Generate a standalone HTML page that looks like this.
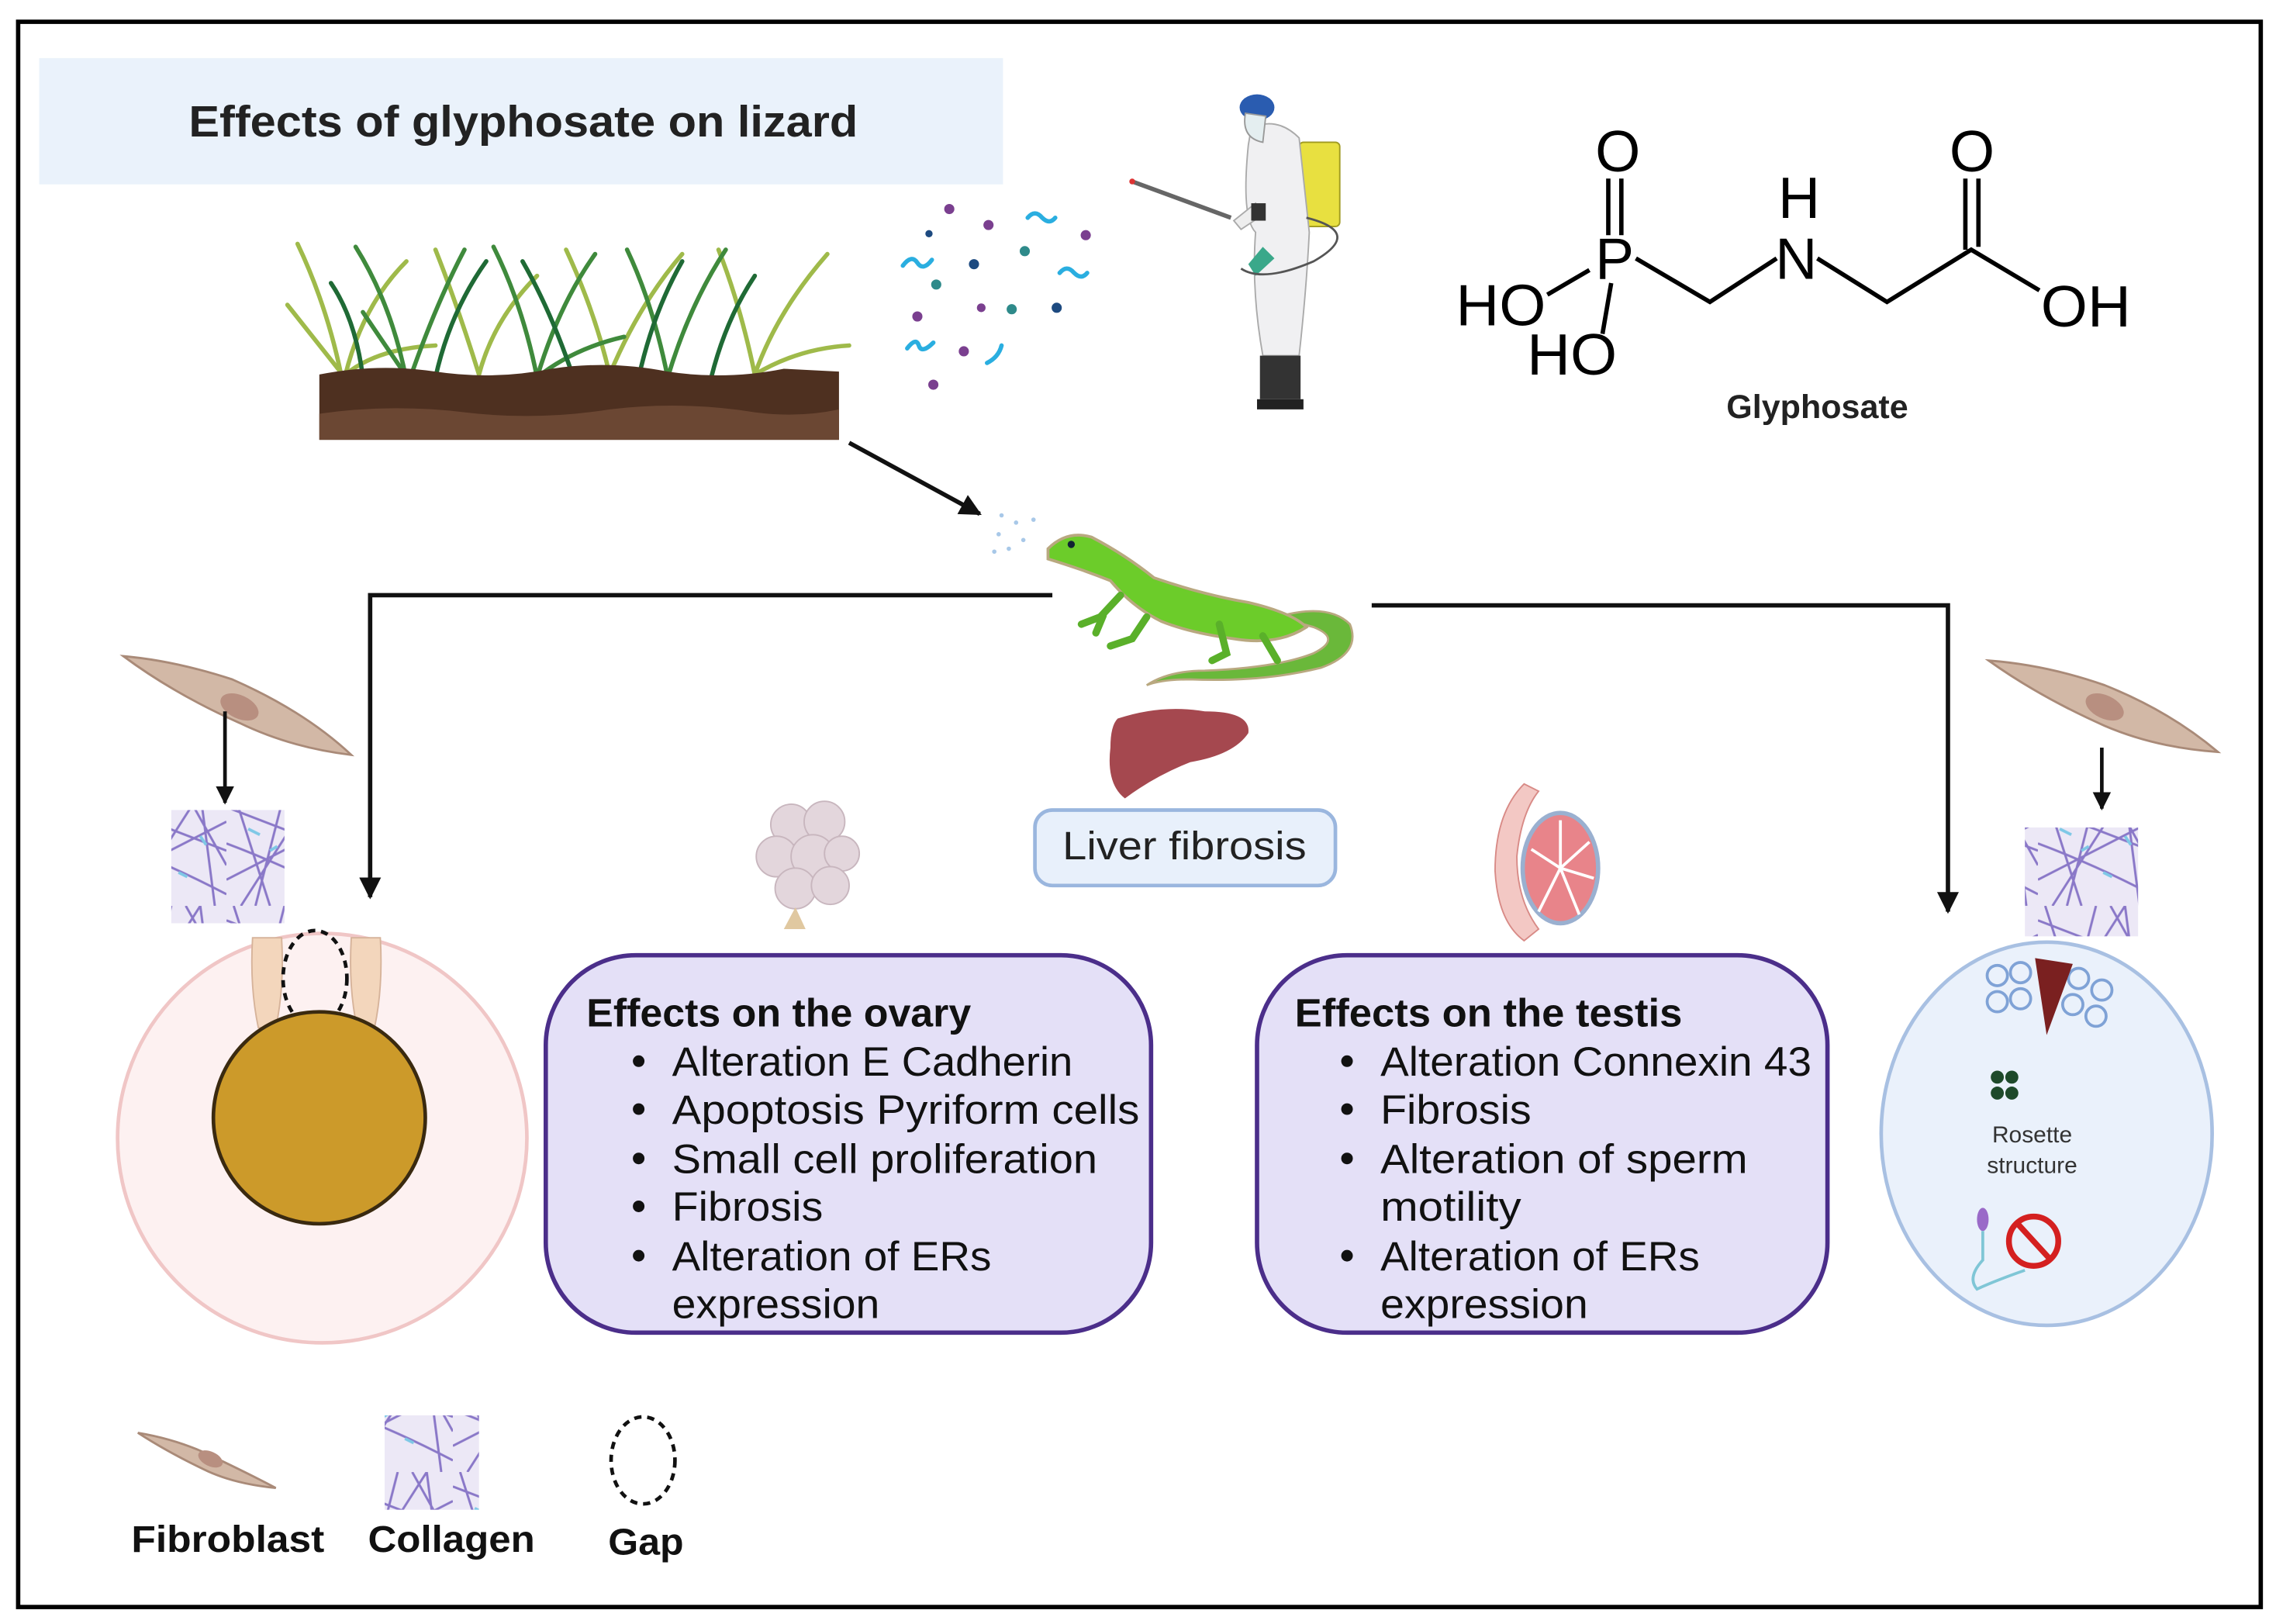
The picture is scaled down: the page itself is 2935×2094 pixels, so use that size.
<!DOCTYPE html>
<html><head><meta charset="utf-8"><style>
html,body{margin:0;padding:0;background:#fff;}
svg{display:block;}
text{font-family:"Liberation Sans",sans-serif;}
</style></head><body>
<svg width="2935" height="2094" viewBox="0 0 1568 1118.7" xmlns="http://www.w3.org/2000/svg">
<defs>
<marker id="ah" viewBox="0 0 10 10" refX="9" refY="5" markerWidth="5" markerHeight="5" orient="auto"><path d="M0,0 L10,5 L0,10 z" fill="#111"/></marker>
<pattern id="col" width="78" height="78" patternUnits="userSpaceOnUse">
<rect width="78" height="78" fill="#ece8f6"/>
<path d="M0,10 L78,40 M5,0 L30,78 M40,0 L20,78 M0,60 L78,20 M60,0 L70,78 M0,35 Q40,50 78,70 M50,0 L78,50 M10,78 L60,0" stroke="#8a78c8" stroke-width="1.6" fill="none"/>
<path d="M15,25 l8,4 M45,55 l6,3 M30,40 l5,-3 M60,30 l4,6" stroke="#7ec8e6" stroke-width="2"/>
</pattern>
</defs>
<rect x="0" y="0" width="1568" height="1118.7" fill="#fff"/>
<rect x="12.5" y="15" width="1545" height="1092" fill="none" stroke="#000" stroke-width="3"/>

<rect x="27" y="40" width="664" height="87" fill="#eaf2fb"/>
<text x="130" y="94" font-size="30" font-weight="bold" fill="#222" textLength="461" lengthAdjust="spacingAndGlyphs">Effects of glyphosate on lizard</text>

<g fill="none" stroke-width="3" stroke-linecap="round">
<g stroke="#9fba4a">
<path d="M235,258 Q225,210 205,168"/><path d="M238,258 Q250,210 280,180"/><path d="M236,258 Q210,225 198,210"/>
<path d="M330,258 Q315,210 300,172"/><path d="M420,258 Q410,215 390,172"/><path d="M420,258 Q440,210 470,175"/>
<path d="M520,258 Q510,210 495,172"/><path d="M520,258 Q535,215 570,175"/><path d="M520,258 Q550,240 585,238"/>
<path d="M330,258 Q340,220 370,190"/><path d="M238,258 Q260,240 300,238"/>
</g>
<g stroke="#3f8a3c">
<path d="M280,262 Q270,210 245,170"/><path d="M282,262 Q300,210 320,172"/><path d="M282,262 Q260,230 250,215"/>
<path d="M370,260 Q360,210 340,170"/><path d="M370,260 Q385,210 410,175"/><path d="M460,260 Q450,210 432,172"/>
<path d="M460,260 Q475,210 500,172"/><path d="M370,260 Q395,240 430,232"/>
</g>
<g stroke="#1f6a35">
<path d="M300,260 Q310,215 335,180"/><path d="M395,260 Q380,215 360,180"/><path d="M440,260 Q450,215 470,180"/><path d="M490,260 Q500,220 520,190"/><path d="M250,260 Q245,220 228,195"/>
</g>
</g>
<path d="M220,258 Q260,250 300,256 Q340,262 380,254 Q420,248 460,256 Q500,262 540,254 L578,256 L578,303 L220,303 Z" fill="#4e3020"/>
<path d="M220,285 Q270,278 320,284 Q370,290 420,282 Q470,276 520,284 Q550,288 578,282 L578,303 L220,303 Z" fill="#6b4733"/>

<g fill="#7a3f8f"><circle cx="654" cy="144" r="3.5"/><circle cx="681" cy="155" r="3.5"/><circle cx="748" cy="162" r="3.5"/><circle cx="632" cy="218" r="3.5"/><circle cx="664" cy="242" r="3.5"/><circle cx="643" cy="265" r="3.5"/><circle cx="676" cy="212" r="3"/></g>
<g fill="#1d4a80"><circle cx="671" cy="182" r="3.5"/><circle cx="728" cy="212" r="3.5"/><circle cx="640" cy="161" r="2.5"/></g>
<g fill="#2e8a8a"><circle cx="645" cy="196" r="3.5"/><circle cx="706" cy="173" r="3.5"/><circle cx="697" cy="213" r="3.5"/></g>
<g fill="none" stroke="#2aaee0" stroke-width="3" stroke-linecap="round">
<path d="M622,183 q6,-8 10,-2 q4,6 10,-2"/><path d="M708,150 q5,-6 10,0 q5,5 9,0"/><path d="M730,188 q5,-6 10,0 q5,5 9,0"/><path d="M625,240 q6,-8 8,-2 q2,6 10,-2"/><path d="M680,250 q8,-4 10,-12"/>
</g>
<path d="M780,125 L848,150" stroke="#666" stroke-width="3"/>
<circle cx="780" cy="125" r="2" fill="#d33"/>
<rect x="895" y="98" width="28" height="58" rx="3" fill="#e8e040" stroke="#a09a20"/>
<path d="M862,88 Q880,80 895,95 L902,160 Q900,200 895,245 L870,245 Q862,200 865,160 Q855,150 860,100 Z" fill="#f0f0f2" stroke="#aaa"/>
<path d="M865,140 L850,152 L855,158 L870,148 Z" fill="#eee" stroke="#aaa"/>
<rect x="862" y="140" width="10" height="12" fill="#333"/>
<path d="M870,170 L860,182 L865,190 L878,178 Z" fill="#3aa88a"/>
<rect x="868" y="245" width="28" height="30" fill="#333"/>
<path d="M866,275 L898,275 L898,282 L866,282 Z" fill="#222"/>
<ellipse cx="866" cy="74" rx="12" ry="9" fill="#2a5cb0"/>
<path d="M858,78 Q855,95 870,98 L872,80 Z" fill="#e4eef0" stroke="#999"/>
<path d="M900,150 Q940,160 905,180 Q870,195 855,185" fill="none" stroke="#555" stroke-width="1.5"/>

<g fill="#000" font-size="40">
<text x="1003" y="224" textLength="62" lengthAdjust="spacingAndGlyphs">HO</text>
<text x="1099" y="192">P</text>
<text x="1099" y="118">O</text>
<text x="1052" y="258" textLength="62" lengthAdjust="spacingAndGlyphs">HO</text>
<text x="1225" y="150">H</text>
<text x="1223" y="192">N</text>
<text x="1343" y="118">O</text>
<text x="1406" y="225" textLength="62" lengthAdjust="spacingAndGlyphs">OH</text>
</g>
<g stroke="#000" stroke-width="3" fill="none">
<path d="M1066,203 L1095,186"/><path d="M1110,195 L1104,230"/>
<path d="M1108,123 L1108,162 M1117,123 L1117,162"/>
<path d="M1127,178 L1178,208 L1224,178"/>
<path d="M1252,178 L1300,208 L1358,172 L1405,200"/>
<path d="M1354,123 L1354,172 M1363,123 L1363,170"/>
</g>
<text x="1252" y="288" font-size="23" font-weight="bold" text-anchor="middle" fill="#222">Glyphosate</text>

<line x1="585" y1="305" x2="675" y2="354" stroke="#111" stroke-width="3" marker-end="url(#ah)"/>
<g fill="#a8c8e8"><circle cx="690" cy="355" r="1.5"/><circle cx="700" cy="360" r="1.5"/><circle cx="688" cy="368" r="1.5"/><circle cx="705" cy="372" r="1.5"/><circle cx="695" cy="378" r="1.5"/><circle cx="712" cy="358" r="1.5"/><circle cx="685" cy="380" r="1.5"/></g>

<!-- lizard -->
<g>
<path d="M880,425 Q915,415 930,430 Q938,450 910,460 Q870,470 820,468 Q800,468 790,472 Q805,462 830,462 Q880,460 905,450 Q925,440 905,432 Z" fill="#6ab83a" stroke="#b9a880" stroke-width="1.5"/>
<path d="M722,378 Q735,365 752,370 Q775,382 795,398 Q830,410 860,415 Q890,422 900,432 Q880,445 850,440 Q820,436 800,428 Q780,418 765,400 Q745,392 722,385 Z" fill="#6ccc2a" stroke="#b9a880" stroke-width="2"/>
<path d="M772,410 L758,425 L745,430 M760,424 l-5,12 M790,425 L780,440 L765,445 M840,430 L845,450 L835,455 M870,438 L880,455" stroke="#5ab02a" stroke-width="5" stroke-linecap="round" fill="none"/>
<circle cx="738" cy="375" r="2.5" fill="#123"/>
</g>
<polyline points="725,410 255,410 255,618" fill="none" stroke="#111" stroke-width="3" marker-end="url(#ah)"/>
<polyline points="945,417 1342,417 1342,628" fill="none" stroke="#111" stroke-width="3" marker-end="url(#ah)"/>

<path d="M770,495 Q800,485 830,490 Q862,490 860,505 Q850,520 820,525 Q795,535 775,550 Q762,540 765,515 Q765,500 770,495 Z" fill="#a5484f"/>
<rect x="713" y="558" width="207" height="52" rx="12" fill="#e8f0fb" stroke="#9ab6de" stroke-width="2.5"/>
<text x="816" y="592" font-size="27" text-anchor="middle" fill="#222" textLength="168" lengthAdjust="spacingAndGlyphs">Liver fibrosis</text>

<path d="M85,452 Q120,455 160,468 Q210,490 242,520 Q200,515 165,498 Q120,478 85,452 Z" fill="#d2b8a6" stroke="#a98a78" stroke-width="1.5"/>
<ellipse cx="165" cy="487" rx="14" ry="8" fill="#b88f80" transform="rotate(25 165 487)"/>
<line x1="155" y1="490" x2="155" y2="553" stroke="#111" stroke-width="2.5" marker-end="url(#ah)"/>
<rect x="118" y="558" width="78" height="78" fill="url(#col)"/>
<circle cx="222" cy="784" r="141" fill="#fdf1f1" stroke="#f0c6c6" stroke-width="2.5"/>
<path d="M174,646 L194,646 Q196,680 190,708 L178,708 Q172,680 174,646 Z" fill="#f3d6bc" stroke="#d6b39a"/>
<path d="M242,646 L262,646 Q264,680 258,708 L246,708 Q240,680 242,646 Z" fill="#f3d6bc" stroke="#d6b39a"/>
<ellipse cx="217" cy="674" rx="22" ry="33" fill="none" stroke="#111" stroke-width="2.5" stroke-dasharray="5,4"/>
<circle cx="220" cy="770" r="73" fill="#cc9a2a" stroke="#3a2a10" stroke-width="2.5"/>

<g fill="#e3d6dc" stroke="#c8b6be">
<circle cx="545" cy="568" r="14"/><circle cx="568" cy="566" r="14"/><circle cx="535" cy="590" r="14"/><circle cx="560" cy="590" r="15"/><circle cx="580" cy="588" r="12"/><circle cx="548" cy="612" r="14"/><circle cx="572" cy="610" r="13"/>
</g>
<path d="M548,625 L540,640 L555,640 Z" fill="#e0c8a0"/>

<rect x="376" y="658" width="417" height="260" rx="62" fill="#e4e0f7" stroke="#4b2e8a" stroke-width="3"/>
<text x="404" y="707" font-size="27" font-weight="bold" fill="#111" textLength="265" lengthAdjust="spacingAndGlyphs">Effects on the ovary</text>
<g font-size="28" fill="#111">
<text x="463" y="741" textLength="276" lengthAdjust="spacingAndGlyphs">Alteration E Cadherin</text>
<text x="463" y="774" textLength="322" lengthAdjust="spacingAndGlyphs">Apoptosis Pyriform cells</text>
<text x="463" y="808" textLength="293" lengthAdjust="spacingAndGlyphs">Small cell proliferation</text>
<text x="463" y="841" textLength="104" lengthAdjust="spacingAndGlyphs">Fibrosis</text>
<text x="463" y="875" textLength="220" lengthAdjust="spacingAndGlyphs">Alteration of ERs</text>
<text x="463" y="908" textLength="143" lengthAdjust="spacingAndGlyphs">expression</text>
</g>
<g fill="#111"><circle cx="440" cy="731" r="4"/><circle cx="440" cy="764" r="4"/><circle cx="440" cy="798" r="4"/><circle cx="440" cy="831" r="4"/><circle cx="440" cy="865" r="4"/></g>

<path d="M1050,540 Q1030,560 1030,600 Q1032,635 1050,648 L1060,640 Q1045,620 1045,590 Q1048,560 1060,545 Z" fill="#f3c8c4" stroke="#d88a86"/>
<ellipse cx="1075" cy="598" rx="26" ry="38" fill="#e8848a" stroke="#9ab0d0" stroke-width="3"/>
<g stroke="#fff" stroke-width="2"><line x1="1075" y1="598" x2="1075" y2="565"/><line x1="1075" y1="598" x2="1095" y2="580"/><line x1="1075" y1="598" x2="1098" y2="605"/><line x1="1075" y1="598" x2="1088" y2="630"/><line x1="1075" y1="598" x2="1060" y2="628"/><line x1="1075" y1="598" x2="1055" y2="585"/></g>

<rect x="866" y="658" width="393" height="260" rx="62" fill="#e4e0f7" stroke="#4b2e8a" stroke-width="3"/>
<text x="892" y="707" font-size="27" font-weight="bold" fill="#111" textLength="267" lengthAdjust="spacingAndGlyphs">Effects on the testis</text>
<g font-size="28" fill="#111">
<text x="951" y="741" textLength="297" lengthAdjust="spacingAndGlyphs">Alteration Connexin 43</text>
<text x="951" y="774" textLength="104" lengthAdjust="spacingAndGlyphs">Fibrosis</text>
<text x="951" y="808" textLength="253" lengthAdjust="spacingAndGlyphs">Alteration of sperm</text>
<text x="951" y="841" textLength="97" lengthAdjust="spacingAndGlyphs">motility</text>
<text x="951" y="875" textLength="220" lengthAdjust="spacingAndGlyphs">Alteration of ERs</text>
<text x="951" y="908" textLength="143" lengthAdjust="spacingAndGlyphs">expression</text>
</g>
<g fill="#111"><circle cx="928" cy="731" r="4"/><circle cx="928" cy="764" r="4"/><circle cx="928" cy="798" r="4"/><circle cx="928" cy="865" r="4"/></g>

<path d="M1370,455 Q1410,458 1450,472 Q1495,490 1528,518 Q1485,515 1450,500 Q1405,480 1370,455 Z" fill="#d2b8a6" stroke="#a98a78" stroke-width="1.5"/>
<ellipse cx="1450" cy="487" rx="14" ry="8" fill="#b88f80" transform="rotate(25 1450 487)"/>
<line x1="1448" y1="515" x2="1448" y2="557" stroke="#111" stroke-width="2.5" marker-end="url(#ah)"/>
<rect x="1395" y="570" width="78" height="75" fill="url(#col)"/>
<ellipse cx="1410" cy="781" rx="114" ry="132" fill="#eaf1fb" stroke="#a8c0e2" stroke-width="2.5"/>
<g fill="none" stroke="#7fa2d6" stroke-width="2">
<circle cx="1376" cy="672" r="7"/><circle cx="1392" cy="670" r="7"/><circle cx="1376" cy="690" r="7"/><circle cx="1392" cy="688" r="7"/>
<circle cx="1432" cy="674" r="7"/><circle cx="1448" cy="682" r="7"/><circle cx="1428" cy="692" r="7"/><circle cx="1444" cy="700" r="7"/>
</g>
<path d="M1402,660 L1428,664 L1410,713 Z" fill="#7a2020"/>
<g fill="#1e4a2a"><circle cx="1376" cy="742" r="4.5"/><circle cx="1386" cy="742" r="4.5"/><circle cx="1376" cy="753" r="4.5"/><circle cx="1386" cy="753" r="4.5"/></g>
<text x="1400" y="787" font-size="16" text-anchor="middle" fill="#333">Rosette</text>
<text x="1400" y="808" font-size="16" text-anchor="middle" fill="#333">structure</text>
<ellipse cx="1366" cy="840" rx="4" ry="8" fill="#9a6ac8"/>
<path d="M1366,848 L1366,868 Q1355,880 1362,888 Q1375,882 1395,875" fill="none" stroke="#7fc6d6" stroke-width="2"/>
<circle cx="1401" cy="855" r="17" fill="none" stroke="#d42020" stroke-width="4"/>
<line x1="1390" y1="843" x2="1412" y2="867" stroke="#d42020" stroke-width="4"/>

<path d="M95,987 Q125,992 150,1005 Q175,1017 190,1025 Q160,1022 140,1012 Q115,1000 95,987 Z" fill="#d2b8a6" stroke="#a98a78" stroke-width="1.5"/>
<ellipse cx="145" cy="1005" rx="9" ry="5" fill="#b88f80" transform="rotate(25 145 1005)"/>
<rect x="265" y="975" width="65" height="65" fill="url(#col)"/>
<ellipse cx="443" cy="1006" rx="22" ry="30" fill="none" stroke="#111" stroke-width="2.5" stroke-dasharray="5,4"/>
<g font-size="26" font-weight="bold" fill="#111" text-anchor="middle">
<text x="157" y="1069" textLength="133" lengthAdjust="spacingAndGlyphs">Fibroblast</text>
<text x="311" y="1069" textLength="115" lengthAdjust="spacingAndGlyphs">Collagen</text>
<text x="445" y="1071" textLength="52" lengthAdjust="spacingAndGlyphs">Gap</text>
</g>
</svg>
</body></html>
